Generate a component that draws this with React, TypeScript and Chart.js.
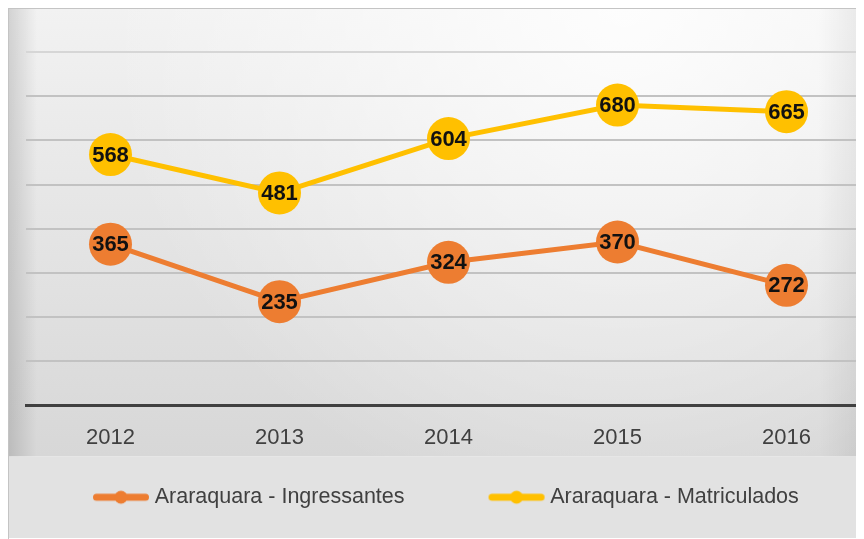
import React, { useEffect, useRef } from "react";
import { Chart, registerables } from "chart.js";

Chart.register(...registerables);

// ---- data ----
const years: string[] = ["2012", "2013", "2014", "2015", "2016"];
const ingressantes: number[] = [365, 235, 324, 370, 272];
const matriculados: number[] = [568, 481, 604, 680, 665];
const seriesNames: string[] = ["Araraquara - Ingressantes", "Araraquara - Matriculados"];
const seriesColors: string[] = ["#ED7D31", "#FFC000"];
const yMin = 0;
const yMax = 800;
const yStep = 100;

const W = 879;
const H = 529;
const FONT = "'Liberation Sans', Arial, sans-serif";

function legendMarker(color: string): HTMLCanvasElement {
  const c = document.createElement("canvas");
  c.width = 130;
  c.height = 22;
  const ctx = c.getContext("2d")!;
  ctx.strokeStyle = color;
  ctx.lineWidth = 7;
  ctx.lineCap = "round";
  ctx.beginPath();
  ctx.moveTo(76.5, 11);
  ctx.lineTo(125.5, 11);
  ctx.stroke();
  ctx.fillStyle = color;
  ctx.beginPath();
  ctx.arc(101, 11, 6.5, 0, Math.PI * 2);
  ctx.fill();
  return c;
}

const bgPlugin = {
  id: "bgPlugin",
  beforeDraw(chart: any) {
    const { ctx, width, height } = chart;
    const bandTop = chart.legend ? chart.legend.top - 13 : height - 82;
    ctx.save();
    const g = ctx.createLinearGradient(0, 0, 0, bandTop);
    g.addColorStop(0, "#f2f2f2");
    g.addColorStop(1, "#d7d7d7");
    ctx.fillStyle = g;
    ctx.fillRect(0, 0, width, bandTop);
    const r = ctx.createRadialGradient(width * 0.7, 0, 0, width * 0.7, 0, 520);
    r.addColorStop(0, "rgba(255,255,255,0.85)");
    r.addColorStop(1, "rgba(255,255,255,0)");
    ctx.fillStyle = r;
    ctx.fillRect(0, 0, width, bandTop);
    const l = ctx.createLinearGradient(0, 0, 28, 0);
    l.addColorStop(0, "rgba(0,0,0,0.13)");
    l.addColorStop(1, "rgba(0,0,0,0)");
    ctx.fillStyle = l;
    ctx.fillRect(0, 0, 28, bandTop);
    const rr = ctx.createLinearGradient(width - 70, 0, width, 0);
    rr.addColorStop(0, "rgba(0,0,0,0)");
    rr.addColorStop(1, "rgba(0,0,0,0.1)");
    ctx.fillStyle = rr;
    ctx.fillRect(width - 70, 0, 70, bandTop);
    ctx.fillStyle = "#e2e2e2";
    ctx.fillRect(0, bandTop, width, height - bandTop);
    ctx.restore();
  },
};

const labelPlugin = {
  id: "labelPlugin",
  afterDatasetsDraw(chart: any) {
    const { ctx } = chart;
    ctx.save();
    ctx.font = `bold 22px ${FONT}`;
    ctx.fillStyle = "#111111";
    ctx.textAlign = "center";
    ctx.textBaseline = "middle";
    chart.data.datasets.forEach((ds: any, i: number) => {
      const meta = chart.getDatasetMeta(i);
      meta.data.forEach((pt: any, j: number) => {
        ctx.fillText(String(ds.data[j]), pt.x, pt.y + 1);
      });
    });
    ctx.restore();
  },
};

export default function App() {
  const ref = useRef<HTMLCanvasElement | null>(null);

  useEffect(() => {
    if (!ref.current) return;
    const markers = seriesColors.map((c) => legendMarker(c));
    const seriesData = [ingressantes, matriculados];
    const chart = new Chart(ref.current, {
      type: "line",
      data: {
        labels: years,
        datasets: seriesNames.map((name, i) => ({
          label: name,
          data: seriesData[i],
          borderColor: seriesColors[i],
          backgroundColor: seriesColors[i],
          pointBackgroundColor: seriesColors[i],
          pointBorderColor: seriesColors[i],
          borderWidth: 5,
          pointRadius: 21.5,
          pointHoverRadius: 21.5,
          pointBorderWidth: 0,
          tension: 0,
          fill: false,
        })),
      },
      options: {
        responsive: false,
        devicePixelRatio: 1,
        animation: false,
        events: [],
        layout: { autoPadding: false, padding: { top: 43, right: 17, left: 0, bottom: 20 } },
        scales: {
          x: {
            offset: true,
            grid: { display: false, drawTicks: false },
            border: { display: true, color: "#404040", width: 3 },
            ticks: {
              color: "#404040",
              padding: 13,
              font: { family: FONT, size: 22, lineHeight: "38px" as any },
            },
          },
          y: {
            min: yMin,
            max: yMax,
            ticks: { display: false, stepSize: yStep },
            border: { display: false },
            grid: {
              drawTicks: false,
              lineWidth: 2,
              color: (c: any) =>
                c.tick && c.tick.value === yMin
                  ? "rgba(0,0,0,0)"
                  : c.tick && c.tick.value === yMax
                  ? "#d6d6d6"
                  : "#c2c2c2",
            },
            afterFit: (scale: any) => {
              scale.width = 17;
            },
          },
        },
        plugins: {
          tooltip: { enabled: false },
          legend: {
            position: "bottom",
            align: "start",
            labels: {
              usePointStyle: true,
              pointStyleWidth: 118,
              padding: 17,
              color: "#404040",
              font: { family: FONT, size: 21.5 },
              generateLabels: (chart: any) => {
                const items = Chart.defaults.plugins.legend.labels.generateLabels(chart);
                items.forEach((it: any, i: number) => {
                  it.pointStyle = markers[i];
                });
                return items;
              },
            },
          },
        },
      },
      plugins: [bgPlugin, labelPlugin],
    });
    return () => chart.destroy();
  }, []);

  return (
    <>
      <style>{"html,body{overflow:hidden;}"}</style>
      <div
        style={{
          width: 856,
          height: 531,
          overflow: "hidden",
          borderTop: "1px solid #c4c4c4",
          borderLeft: "1px solid #c4c4c4",
          boxSizing: "border-box",
        }}
      >
        <canvas ref={ref} width={W} height={H} style={{ display: "block", width: W, height: H }} />
      </div>
    </>
  );
}
